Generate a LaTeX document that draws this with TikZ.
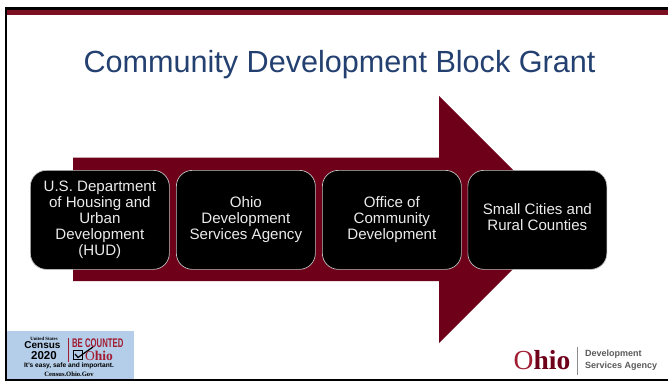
\documentclass[tikz,border=0pt]{standalone}
\usepackage{fontspec}
\setmainfont{Liberation Sans}
\newfontfamily\serifb{Liberation Serif}
\definecolor{maroon}{HTML}{6E001A}
\definecolor{topbar}{HTML}{7D0F22}
\definecolor{titleblue}{HTML}{234070}
\definecolor{censusbg}{HTML}{B4CDE8}
\definecolor{logored}{HTML}{A01C32}
\definecolor{logogray}{HTML}{5A5A5A}
\tikzset{
  stepbox/.style={draw=white!75!black,line width=0.7pt,fill=black,rounded corners=16pt,minimum width=139pt,minimum height=99pt,anchor=north west,inner sep=0pt,text=white!92!black,align=center,font=\fontsize{15.1}{16}\selectfont},
  plain/.style={inner sep=0pt,align=center}
}
\begin{document}
\begin{tikzpicture}[x=1pt,y=-1pt]
\useasboundingbox (0,0) rectangle (668,382);
\fill[white] (0,0) rectangle (668,382);
% frame
\fill[topbar] (6,10) rectangle (668,15);
\fill[black] (5,7.5) rectangle (668,10);
\fill[black] (4.7,7.5) rectangle (7,381);
\fill[black] (4.7,379.3) rectangle (668,381);
% title
\node[plain,text=titleblue,font=\fontsize{30.6}{34}\selectfont] (title) at (339.5,64.5) {Community Development Block Grant};
% big arrow
\fill[maroon] (73,157.5) -- (439,157.5) -- (439,96) -- (562.5,219.5) -- (439,343) -- (439,281) -- (73,281) -- cycle;
% boxes
\node[stepbox] (hud) at (30,170) {U.S. Department\\of Housing and\\Urban\\Development\\(HUD)};
\node[stepbox] (ods) at (176,170) {Ohio\\Development\\Services Agency};
\node[stepbox] (ocd) at (322,170) {Office of\\Community\\Development};
\node[stepbox] (small) at (467.5,170) {\raisebox{14.5pt}{\parbox{136pt}{\centering Small Cities and\\Rural Counties}}};
% census badge
\fill[censusbg] (7,331) rectangle (134,379.3);
\node[plain,font=\fontsize{4.8}{5}\selectfont\bfseries\serifb] (us) at (44,338.5) {United States};
\node[plain,font=\fontsize{10}{10}\selectfont\bfseries] (cen) at (42.5,345) {Census};
\node[plain,font=\fontsize{11.5}{12}\selectfont\bfseries] (yr) at (44,356) {2020};
\draw[logored,line width=0.6pt] (68,338) -- (68,362);
\node[plain,anchor=west,xscale=.62,text=logored,font=\fontsize{12.5}{13}\selectfont\bfseries] (be) at (72,343.5) {BE COUNTED};
\node[draw=black,line width=0.9pt,minimum size=8.5pt,inner sep=0pt] (chk) at (78,355) {};
\draw[black,line width=1.2pt] (75,354) -- (78,357.5) -- (93,347);
\node[plain,anchor=west,text=logored,font=\fontsize{13.5}{14}\selectfont\bfseries\serifb] (oh) at (85,355.5) {{\mdseries O}hio};
\node[plain,font=\fontsize{6.6}{7}\selectfont\bfseries] (easy) at (69,366) {It's easy, safe and important.};
\node[plain,font=\fontsize{6.6}{7}\selectfont\bfseries\serifb] (gov) at (69,374) {Census.Ohio.Gov};
% ohio logo
\node[plain,anchor=west,font=\fontsize{27.5}{28}\selectfont\bfseries\serifb] (ohio) at (513.5,360) {\textcolor{logored}{\mdseries O}\textcolor{maroon}{hio}};
\draw[black!45,line width=0.6pt] (577.5,347) -- (577.5,375);
\node[plain,anchor=west,align=left,text=logogray,font=\fontsize{9}{12}\selectfont\bfseries] (dsa) at (585,360.5) {Development\\Services Agency};
\end{tikzpicture}
\end{document}
